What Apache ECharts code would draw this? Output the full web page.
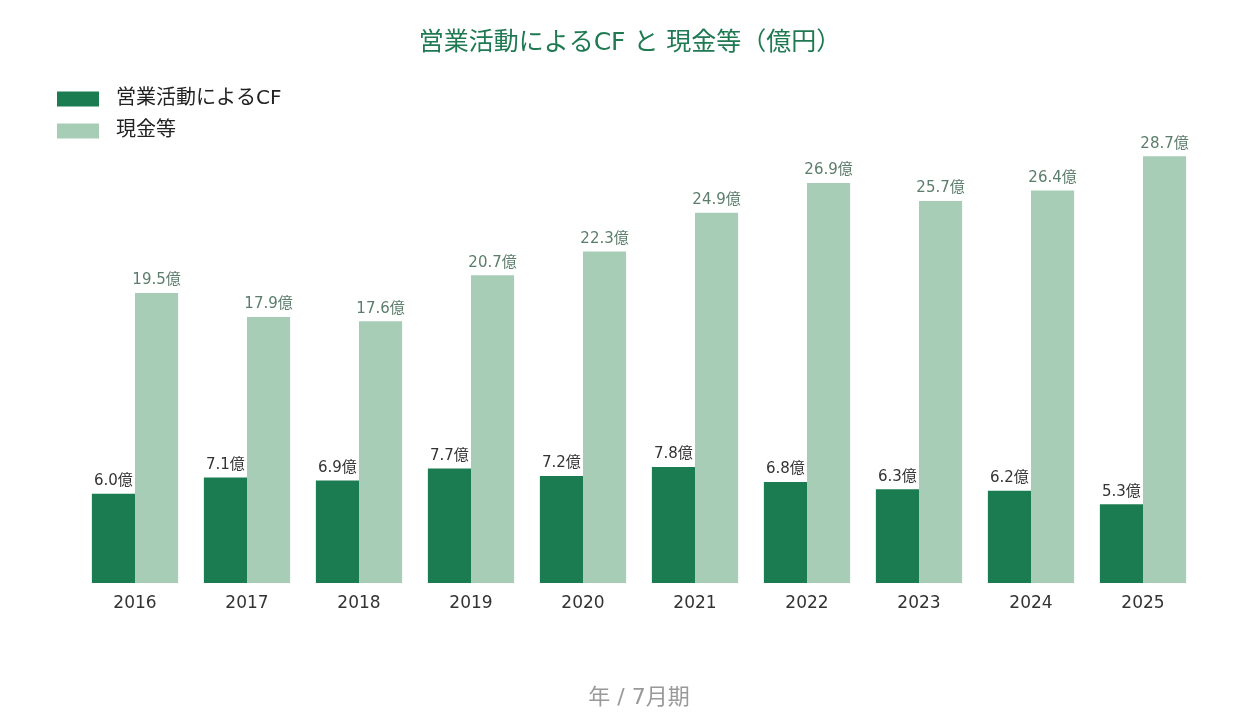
<!DOCTYPE html>
<html>
<head>
<meta charset="utf-8">
<script src="https://cdn.jsdelivr.net/npm/echarts@6/dist/echarts.min.js"></script>
<style>
  html, body { margin: 0; padding: 0; background: #fff; }
  #main { width: 1260px; height: 720px; }
</style>
</head>
<body>
<div id="main"></div>
<script>
var years = ['2016', '2017', '2018', '2019', '2020', '2021', '2022', '2023', '2024', '2025'];
var seriesNames = ['営業活動によるCF', '現金等'];
var cfValues = [6.0, 7.1, 6.9, 7.7, 7.2, 7.8, 6.8, 6.3, 6.2, 5.3];
var cashValues = [19.5, 17.9, 17.6, 20.7, 22.3, 24.9, 26.9, 25.7, 26.4, 28.7];

var font = '"DejaVu Sans", "Noto Sans CJK JP", sans-serif';

var option = {
    textStyle: { fontFamily: font },
    title: {
        text: '営業活動によるCF と 現金等（億円）',
        left: 'center',
        top: 26,
        textStyle: { color: '#1f7a52', fontSize: 25, fontWeight: 'normal', fontFamily: font }
    },
    // 凡例
    legend: {
        data: seriesNames,
        orient: 'vertical',
        left: 52,
        top: 84,
        icon: 'rect',
        itemWidth: 42,
        itemHeight: 15,
        itemGap: 12,
        textStyle: { fontSize: 20, color: '#222', padding: [0, 0, 0, 12], fontFamily: font }
    },
    grid: {
        left: 79,
        right: 61,
        top: 137,
        bottom: 137
    },
    xAxis: [{
        type: 'category',
        data: years,
        name: '年 / 7月期',
        nameLocation: 'middle',
        nameGap: 104,
        nameTextStyle: { color: '#999', fontSize: 22, fontFamily: font },
        axisLine: { show: false },
        axisTick: { show: false },
        axisLabel: { color: '#333', fontSize: 17, margin: 12 }
    }],
    yAxis: [{
        type: 'value',
        min: 0,
        max: 30,
        show: false,
        splitLine: { show: false }
    }],
    series: [
        {
            name: seriesNames[0],
            type: 'bar',
            data: cfValues,
            barGap: 0,
            barCategoryGap: '23%',
            itemStyle: { color: '#1b7c52' },
            label: {
                show: true,
                position: 'top',
                color: '#333',
                fontSize: 15,
                formatter: function (p) { return p.value.toFixed(1) + '億'; }
            }
        },
        {
            name: seriesNames[1],
            type: 'bar',
            data: cashValues,
            barGap: 0,
            barCategoryGap: '23%',
            itemStyle: { color: '#a8cdb7' },
            label: {
                show: true,
                position: 'top',
                color: '#5b7d6b',
                fontSize: 15,
                formatter: function (p) { return p.value.toFixed(1) + '億'; }
            }
        }
    ]
};

var myChart = echarts.init(document.getElementById('main'));
myChart.setOption(option);
</script>
</body>
</html>
